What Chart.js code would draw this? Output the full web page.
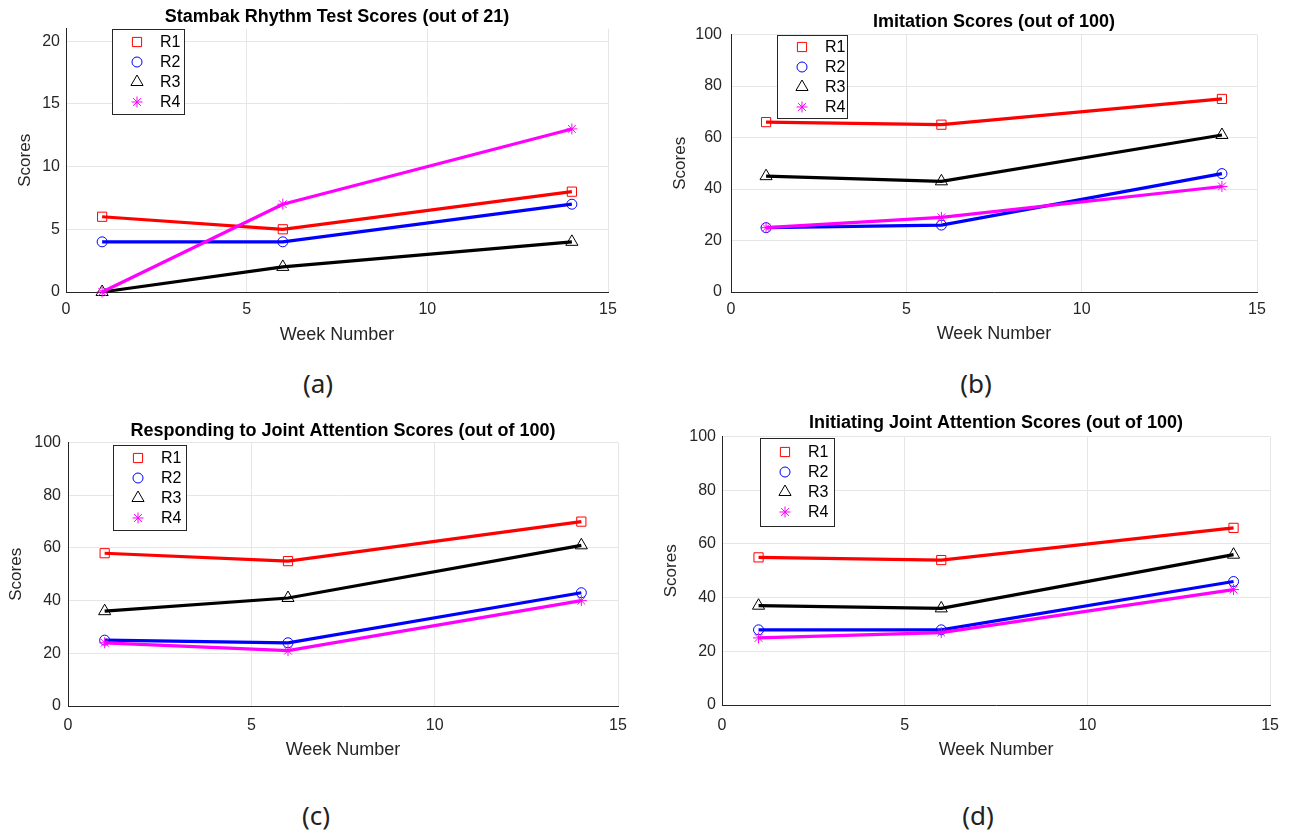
<!DOCTYPE html>
<html>
<head>
<meta charset="utf-8">
<script src="https://cdn.jsdelivr.net/npm/chart.js@4.4.1/dist/chart.umd.min.js"></script>
<style>
  body { margin: 0; background: #fff; width: 1295px; height: 835px; position: relative; overflow: hidden; }
  canvas { position: absolute; }
  .tag { position: absolute; font-family: "Noto Sans", sans-serif; font-size: 26px; color: #222; transform: translate(-50%, -50%); }
</style>
</head>
<body>
<canvas id="pa" width="640" height="360" style="left:0;top:0"></canvas>
<canvas id="pb" width="640" height="360" style="left:650px;top:0"></canvas>
<canvas id="pc" width="640" height="360" style="left:0;top:410px"></canvas>
<canvas id="pd" width="640" height="360" style="left:650px;top:410px"></canvas>
<div class="tag" style="left:318px;top:383px">(a)</div>
<div class="tag" style="left:976px;top:383px">(b)</div>
<div class="tag" style="left:316px;top:815px">(c)</div>
<div class="tag" style="left:978px;top:815px">(d)</div>
<script>
// ---- data ----
const weeks = [1, 6, 14];
const seriesNames = ['R1', 'R2', 'R3', 'R4'];
const xTicks = [0, 5, 10, 15];
const rhythmTicks = [0, 5, 10, 15, 20];
const percentTicks = [0, 20, 40, 60, 80, 100];

// one row per series, R1..R4
const rhythmScores     = [[6, 5, 8], [4, 4, 7], [0, 2, 4], [0, 7, 13]];
const imitationScores  = [[66, 65, 75], [25, 26, 46], [45, 43, 61], [25, 29, 41]];
const respondingScores = [[58, 55, 70], [25, 24, 43], [36, 41, 61], [24, 21, 40]];
const initiatingScores = [[55, 54, 66], [28, 28, 46], [37, 36, 56], [25, 27, 43]];

// ---- style ----
const colors = ['#ff0000', '#0000ff', '#000000', '#ff00ff'];
const markers = ['rect', 'circle', 'triangle', 'star'];
const markerSize = [6.5, 5, 7, 5.5];
const FONT = '"Liberation Sans", Arial, sans-serif';
const AXIS = '#262626';

// legend drawn as a box inside the plot area (matlab style)
const boxLegend = {
  id: 'boxLegend',
  afterDatasetsDraw(chart, args, o) {
    const { ctx, chartArea } = chart;
    const x = Math.round(chartArea.left + o.dx), y = Math.round(chartArea.top + o.dy);
    ctx.save();
    ctx.fillStyle = '#fff';
    ctx.fillRect(x, y, o.w, o.h);
    ctx.strokeStyle = AXIS;
    ctx.lineWidth = 1;
    ctx.strokeRect(x + 0.5, y + 0.5, o.w, o.h);
    chart.data.datasets.forEach((ds, i) => {
      const cy = y + o.first + i * 20;
      ctx.strokeStyle = ds.borderColor;
      ctx.fillStyle = 'rgba(0,0,0,0)';
      ctx.lineWidth = 1;
      Chart.helpers.drawPoint(ctx, { pointStyle: ds.pointStyle, radius: ds.pointRadius, borderWidth: 1, rotation: 0 }, x + 25, cy);
      ctx.fillStyle = '#000';
      ctx.font = '16px ' + FONT;
      ctx.textBaseline = 'middle';
      ctx.textAlign = 'left';
      ctx.fillText(ds.label, x + 48, cy + 1);
    });
    ctx.restore();
  }
};

function makePanel(id, title, scores, yTicks, yMax, L) {
  return new Chart(document.getElementById(id), {
    type: 'line',
    data: {
      datasets: scores.map((vals, i) => ({
        label: seriesNames[i],
        data: vals.map((v, j) => ({ x: weeks[j], y: v })),
        borderColor: colors[i],
        borderWidth: 3.2,
        pointStyle: markers[i],
        pointRadius: markerSize[i],
        pointBorderWidth: 1,
        pointBorderColor: colors[i],
        pointBackgroundColor: 'rgba(0,0,0,0)',
        tension: 0,
        clip: false,
        order: 3 - i
      }))
    },
    options: {
      responsive: false,
      animation: false,
      layout: { padding: { left: 0, right: L.right, top: 0, bottom: 0 } },
      plugins: {
        legend: { display: false },
        tooltip: { enabled: false },
        title: {
          display: true, text: title, color: '#000', fullSize: false,
          font: { family: FONT, size: 18, weight: 'bold' },
          padding: { top: L.tTop, bottom: L.tBottom }
        },
        boxLegend: L.legend
      },
      scales: {
        x: {
          type: 'linear', min: 0, max: 15,
          afterBuildTicks: s => { s.ticks = xTicks.map(v => ({ value: v })); },
          afterFit: s => { s.height = L.xH; },
          grid: { color: '#e6e6e6', drawTicks: false },
          border: { color: AXIS, width: 1 },
          ticks: { color: AXIS, padding: L.xPad, font: { family: FONT, size: 16 } },
          title: { display: true, text: 'Week Number', color: AXIS, font: { family: FONT, size: 18 }, padding: { top: 0, bottom: L.xTitle } }
        },
        y: {
          type: 'linear', min: 0, max: yMax,
          afterBuildTicks: s => { s.ticks = yTicks.map(v => ({ value: v })); },
          afterFit: s => { s.width = L.yW; },
          grid: { color: '#e6e6e6', drawTicks: false },
          border: { color: AXIS, width: 1 },
          ticks: { color: AXIS, padding: L.yPad, font: { family: FONT, size: 16 } },
          title: { display: true, text: 'Scores', color: AXIS, font: { family: FONT, size: 17 }, padding: { top: L.yTitle, bottom: 0 } }
        }
      }
    },
    plugins: [boxLegend]
  });
}

makePanel('pa', 'Stambak Rhythm Test Scores (out of 21)', rhythmScores, rhythmTicks, 21,
  { right: 32, tTop: 6, tBottom: 1, xH: 68, xPad: 8, xTitle: 14, yW: 66, yPad: 6, yTitle: 15,
    legend: { dx: 46, dy: 0, w: 72, h: 85, first: 13 } });
makePanel('pb', 'Imitation Scores (out of 100)', imitationScores, percentTicks, 100,
  { right: 33, tTop: 11, tBottom: 2, xH: 68, xPad: 8, xTitle: 15, yW: 81, yPad: 9, yTitle: 20,
    legend: { dx: 46, dy: 0, w: 70, h: 83, first: 12 } });
makePanel('pc', 'Responding to Joint Attention Scores (out of 100)', respondingScores, percentTicks, 100,
  { right: 22, tTop: 10, tBottom: 1, xH: 64, xPad: 10, xTitle: 9, yW: 68, yPad: 7, yTitle: 6,
    legend: { dx: 45, dy: 2, w: 73, h: 85, first: 13 } });
makePanel('pd', 'Initiating Joint Attention Scores (out of 100)', initiatingScores, percentTicks, 100,
  { right: 15, tTop: 2, tBottom: 3, xH: 65, xPad: 11, xTitle: 9, yW: 72, yPad: 6, yTitle: 11,
    legend: { dx: 38, dy: 1, w: 74, h: 88, first: 14 } });
</script>
</body>
</html>
